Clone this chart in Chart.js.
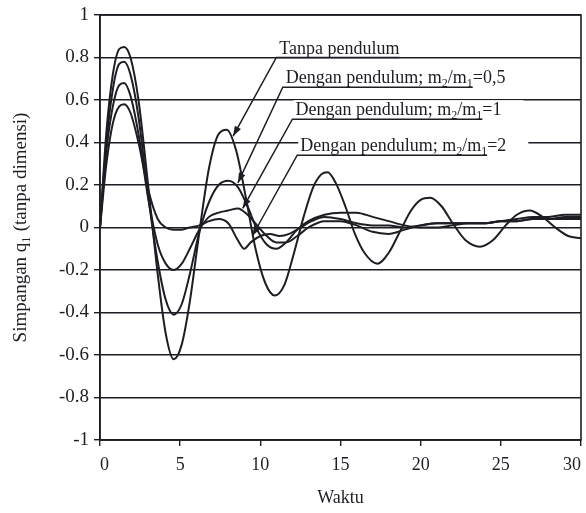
<!DOCTYPE html>
<html><head><meta charset="utf-8">
<script src="https://cdn.jsdelivr.net/npm/chart.js@4/dist/chart.umd.min.js"></script>
<style>html,body{margin:0;padding:0;background:#fff}</style>
</head><body>
<canvas id="c" width="586" height="513"></canvas>
<script>
// ---- data ----
const timeTanpa = [0,0.4,0.8,1.2,1.5,1.9,2.4,3.0,3.6,4.1,4.6,5.1,5.6,6.2,6.8,7.4,7.9,8.5,9.1,9.7,10.3,10.9,11.5,12.1,12.7,13.3,13.8,14.2,14.7,15.3,15.9,16.5,17.3,18.0,18.7,19.4,20.0,20.6,21.3,22.0,22.8,23.7,24.5,25.3,26.0,26.8,27.6,28.4,29.2,30];
const valTanpa  = [0,0.45,0.72,0.84,0.85,0.8,0.6,0.2,-0.22,-0.5,-0.62,-0.55,-0.35,-0.02,0.28,0.44,0.46,0.36,0.14,-0.1,-0.26,-0.32,-0.27,-0.12,0.05,0.19,0.25,0.26,0.21,0.1,-0.03,-0.12,-0.17,-0.12,-0.02,0.08,0.13,0.14,0.1,0.02,-0.06,-0.09,-0.06,0.01,0.06,0.08,0.05,0.0,-0.04,-0.05];

const timeHalf = [0,0.4,0.8,1.2,1.5,1.9,2.4,3.0,3.6,4.1,4.6,5.1,5.6,6.2,6.8,7.4,8.0,8.6,9.2,9.8,10.4,11.0,11.6,12.3,13,14,15,16,17,18,19,20,21,22,23,24,25,26,27,28,29,30];
const valHalf  = [0,0.4,0.65,0.77,0.78,0.72,0.52,0.15,-0.16,-0.34,-0.41,-0.36,-0.22,-0.02,0.12,0.2,0.22,0.19,0.1,-0.01,-0.08,-0.1,-0.07,-0.01,0.03,0.06,0.07,0.07,0.05,0.03,0.01,0.0,0.0,0.01,0.02,0.02,0.03,0.04,0.05,0.05,0.06,0.06];

const timeOne = [0,0.4,0.8,1.2,1.5,1.9,2.4,3.0,3.6,4.1,4.6,5.1,5.6,6.2,6.8,7.4,8.0,8.6,9.2,9.8,10.4,11.0,11.6,12.3,13,14,15,16,17,18,19,20,21,22,23,24,25,26,27,28,29,30];
const valOne  = [0,0.36,0.57,0.67,0.68,0.62,0.44,0.14,-0.08,-0.17,-0.2,-0.17,-0.1,-0.01,0.05,0.07,0.08,0.09,0.06,0.01,-0.04,-0.07,-0.07,-0.04,0.0,0.03,0.03,0.01,-0.02,-0.03,-0.01,0.01,0.02,0.02,0.02,0.02,0.03,0.03,0.04,0.04,0.04,0.04];

const timeTwo = [0,0.4,0.8,1.2,1.5,1.9,2.4,3.0,3.6,4.1,4.6,5.1,5.6,6.2,6.8,7.4,8.0,8.6,9.0,9.4,10.0,10.6,11.2,11.8,12.5,13.2,14,15,16,17,18,19,20,21,22,23,24,25,26,27,28,29,30];
const valTwo  = [0,0.3,0.49,0.57,0.58,0.54,0.4,0.18,0.04,0.0,-0.01,-0.01,0.0,0.01,0.03,0.04,0.02,-0.06,-0.1,-0.07,-0.04,-0.03,-0.04,-0.03,0.0,0.03,0.05,0.04,0.02,0.01,0.01,0.0,0.01,0.02,0.02,0.02,0.02,0.03,0.03,0.04,0.04,0.05,0.05];

const xTicks = [0,5,10,15,20,25,30];
const yTicks = [-1,-0.8,-0.6,-0.4,-0.2,0,0.2,0.4,0.6,0.8,1];

const labelTanpa = [['Tanpa pendulum',0]];
const labelHalf  = [['Dengan pendulum; m',0],['2',1],['/m',0],['1',1],['=0,5',0]];
const labelOne   = [['Dengan pendulum; m',0],['2',1],['/m',0],['1',1],['=1',0]];
const labelTwo   = [['Dengan pendulum; m',0],['2',1],['/m',0],['1',1],['=2',0]];

// anchor of underline start and arrow tip, in data units (time, value)
const noteAnchors = [[11.0,0.8],[11.4,0.66],[12.0,0.51],[12.3,0.34]];
const noteTips    = [[8.3,0.43],[8.6,0.21],[8.9,0.09],[9.5,-0.04]];

// ---- build ----
const pts = (t,v)=>t.map((x,i)=>({x:x,y:v[i]}));
const INK = '#1d1d24';
const SERIF = "'Liberation Serif','Times New Roman',serif";

const mkSet = (label,t,v)=>({label, data:pts(t,v), borderColor:INK, borderWidth:2,
  pointRadius:0, fill:false, cubicInterpolationMode:'monotone'});

const frame = {
  id:'frame',
  beforeDatasetsDraw(ch){
    const a = ch.chartArea, c = ch.ctx;
    c.save(); c.strokeStyle = INK; c.lineWidth = 1.6;
    c.strokeRect(a.left, a.top, a.right-a.left, a.bottom-a.top);
    c.restore();
  }
};

const notes = {
  id:'notes',
  afterDatasetsDraw(ch){
    const c = ch.ctx, xs = ch.scales.x, ys = ch.scales.y;
    const all = [labelTanpa,labelHalf,labelOne,labelTwo];
    const main = '18px '+SERIF, sub = '12px '+SERIF;
    c.save();
    all.forEach((pieces,k)=>{
      const ux = xs.getPixelForValue(noteAnchors[k][0]);
      const uy = ys.getPixelForValue(noteAnchors[k][1]);
      const tx = xs.getPixelForValue(noteTips[k][0]);
      const ty = ys.getPixelForValue(noteTips[k][1]);
      let w = 0, ulW = 0;
      pieces.forEach((p,i)=>{ c.font = p[1]?sub:main; w += c.measureText(p[0]).width; if(i<4) ulW = w; });
      if (pieces.length===1) ulW = w;
      const x0 = ux + 3, base = uy - 4;
      c.fillStyle = '#fff';
      c.fillRect(x0-2, base-15, w+24, 17);
      c.fillStyle = INK; c.textBaseline = 'alphabetic'; c.textAlign = 'left';
      let x = x0;
      pieces.forEach(p=>{ c.font = p[1]?sub:main; c.fillText(p[0], x, base + (p[1]?4:0)); x += c.measureText(p[0]).width; });
      c.strokeStyle = INK; c.lineWidth = 1.5;
      c.beginPath(); c.moveTo(x0+ulW, uy); c.lineTo(ux, uy); c.lineTo(tx, ty); c.stroke();
      const ang = Math.atan2(ty-uy, tx-ux), L = 10, H = 3.5;
      c.beginPath();
      c.moveTo(tx, ty);
      c.lineTo(tx - L*Math.cos(ang) + H*Math.sin(ang), ty - L*Math.sin(ang) - H*Math.cos(ang));
      c.lineTo(tx - L*Math.cos(ang) - H*Math.sin(ang), ty - L*Math.sin(ang) + H*Math.cos(ang));
      c.closePath(); c.fillStyle = INK; c.fill();
    });
    c.restore();
  }
};

new Chart(document.getElementById('c'), {
  type:'line',
  data:{datasets:[
    mkSet('Tanpa pendulum', timeTanpa, valTanpa),
    mkSet('Dengan pendulum; m2/m1=0,5', timeHalf, valHalf),
    mkSet('Dengan pendulum; m2/m1=1', timeOne, valOne),
    mkSet('Dengan pendulum; m2/m1=2', timeTwo, valTwo)
  ]},
  options:{
    responsive:false, animation:false, devicePixelRatio:1,
    layout:{padding:{top:15,right:5,bottom:0,left:0}},
    plugins:{legend:{display:false}, tooltip:{enabled:false}},
    scales:{
      x:{type:'linear', min:0, max:30,
        afterBuildTicks(s){ s.ticks = xTicks.map(v=>({value:v})); },
        afterFit(s){ s.height = 73; s.paddingLeft = 0; s.paddingRight = 0; },
        grid:{drawOnChartArea:false, drawTicks:true, tickLength:6, color:INK, lineWidth:1.4},
        border:{display:true, color:INK, width:1.6},
        ticks:{font:{family:SERIF, size:18}, color:INK, padding:8, maxRotation:0, autoSkip:false, align:'inner'},
        title:{display:true, text:'Waktu', font:{family:SERIF, size:18}, color:INK, padding:{top:0,bottom:4}}
      },
      y:{type:'linear', min:-1, max:1,
        afterBuildTicks(s){ s.ticks = yTicks.map(v=>({value:v})); },
        afterFit(s){ s.width = 100; s.paddingTop = 0; s.paddingBottom = 0; },
        grid:{drawOnChartArea:true, drawTicks:true, tickLength:6, color:INK, lineWidth:1.4},
        border:{display:true, color:INK, width:1.6},
        ticks:{font:{family:SERIF, size:19}, color:INK, padding:5, autoSkip:false,
          callback:v=>Math.abs(v)<1e-9?'0':String(+v.toFixed(1))},
        title:{display:true, text:'Simpangan q\u2081 (tanpa dimensi)', font:{family:SERIF, size:19}, color:INK, padding:{top:10,bottom:0}}
      }
    }
  },
  plugins:[frame, notes]
});
</script>
</body></html>
